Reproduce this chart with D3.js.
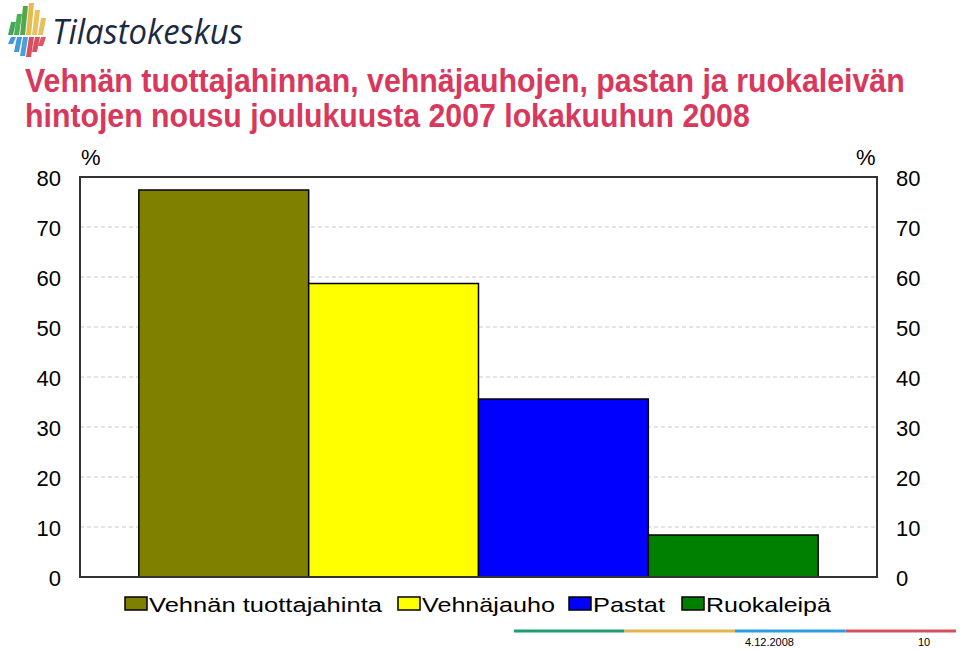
<!DOCTYPE html>
<html><head><meta charset="utf-8">
<script src="https://cdn.jsdelivr.net/npm/d3@7"></script>
<style>body{margin:0;background:#fff}svg{display:block}</style>
</head><body>
<script>
const seriesNames = ["Vehnän tuottajahinta","Vehnäjauho","Pastat","Ruokaleipä"];
const seriesValues = [77.4, 58.7, 35.6, 8.4];
const seriesColors = ["#808000","#ffff00","#0000ff","#008000"];
const yTicks = [0,10,20,30,40,50,60,70,80];
const titleLines = ["Vehnän tuottajahinnan, vehnäjauhojen, pastan ja ruokaleivän","hintojen nousu joulukuusta 2007 lokakuuhun 2008"];
const footerDate = "4.12.2008";
const footerPage = "10";

const W=960,H=650;
const svg=d3.select("body").append("svg").attr("width",W).attr("height",H);
const font="Arial, 'Liberation Sans', sans-serif";

// fit a text to a target width by horizontal scaling
function fitWidth(sel, x0, y0, target){
  sel.each(function(d,i){
    const t=d3.select(this);
    const w=this.getComputedTextLength();
    const tw=typeof target==="function"?target(d,i):target;
    const k=tw/w;
    t.attr("x",0).attr("y",0)
     .attr("transform",`translate(${typeof x0==="function"?x0(d,i):x0},${typeof y0==="function"?y0(d,i):y0}) scale(${k},1)`);
  });
}

// logo
const logo=svg.append("g");
const topBars=[{x:8,top:22,c:"#2f9d48"},{x:14,top:14,c:"#3aa843"},{x:20,top:6,c:"#3f9e3a"},{x:26,top:3,c:"#e3b53c"},{x:32,top:10,c:"#e8bc4a"},{x:38,top:18,c:"#e7b84a"}];
const botBars=[{x:3,bot:44,c:"#2e8fd8"},{x:9,bot:52,c:"#2f8fd5"},{x:15,bot:56,c:"#3a93d6"},{x:21,bot:57,c:"#d23b4f"},{x:27,bot:52,c:"#d43e4f"},{x:33,bot:46,c:"#d6485a"}];
topBars.forEach(b=>{
  logo.append("path").attr("d",`M${b.x},35 L${b.x+3},${b.top} L${b.x+8},${b.top} L${b.x+5},35 Z`).attr("fill",b.c).attr("opacity",0.9);
});
botBars.forEach(b=>{
  logo.append("path").attr("d",`M${b.x+5},${b.bot} L${b.x+8},37 L${b.x+13},37 L${b.x+10},${b.bot} Z`).attr("fill",b.c).attr("opacity",0.9);
});
logo.append("text").attr("font-family","'Open Sans', 'DejaVu Sans', sans-serif")
  .attr("font-size",34).attr("font-style","italic").attr("fill","#1b2a41")
  .text("Tilastokeskus").call(fitWidth,52,44,191);

// title
const titleLen=[880,725];
svg.selectAll("text.title").data(titleLines).enter().append("text").attr("class","title")
  .attr("font-family",font).attr("font-weight","bold")
  .attr("font-size",33).attr("fill","#d8385c")
  .text(d=>d)
  .call(fitWidth,25,(d,i)=>92+i*35,(d,i)=>titleLen[i]);

const L=80,R=877,T=177,B=577;
const y=d3.scaleLinear().domain([0,80]).range([B,T]);
const x=d3.scaleBand().domain(seriesNames).range([L,R]).paddingInner(0).paddingOuter(0.3465);

// grid
svg.append("g").selectAll("line").data(yTicks.filter(t=>t>0&&t<80)).enter().append("line")
  .attr("x1",L).attr("x2",R).attr("y1",d=>y(d)).attr("y2",d=>y(d))
  .attr("stroke","#c8c8c8").attr("stroke-dasharray","4,3").attr("stroke-width",1);

// bars
svg.append("g").selectAll("rect").data(seriesNames).enter().append("rect")
  .attr("x",d=>x(d)).attr("width",x.bandwidth())
  .attr("y",(d,i)=>y(seriesValues[i])).attr("height",(d,i)=>B-y(seriesValues[i]))
  .attr("fill",(d,i)=>seriesColors[i]).attr("stroke","#000").attr("stroke-width",1.5);

// frame
svg.append("rect").attr("x",L).attr("y",T).attr("width",R-L).attr("height",B-T)
  .attr("fill","none").attr("stroke","#333").attr("stroke-width",2);

// axes labels
const axL=d3.axisLeft(y).tickValues(yTicks).tickSize(0).tickPadding(19);
const gL=svg.append("g").attr("transform",`translate(${L},0)`).call(axL);
const axR=d3.axisRight(y).tickValues(yTicks).tickSize(0).tickPadding(19);
const gR=svg.append("g").attr("transform",`translate(${R},0)`).call(axR);
[gL,gR].forEach(g=>{g.select(".domain").remove();g.selectAll("text").attr("font-family",font).attr("font-size",22).attr("fill","#000").attr("dy","0.38em");});

svg.append("text").attr("x",81).attr("y",165).attr("font-family",font).attr("font-size",22).text("%");
svg.append("text").attr("x",856).attr("y",165).attr("font-family",font).attr("font-size",22).text("%");

// legend
const legX=[125,398,569,682];
const legLen=[233,133,72,125];
const leg=svg.append("g").selectAll("g").data(seriesNames).enter().append("g")
  .attr("transform",(d,i)=>`translate(${legX[i]},597)`);
leg.append("rect").attr("width",22).attr("height",13).attr("fill",(d,i)=>seriesColors[i]).attr("stroke","#000").attr("stroke-width",1.5);
leg.append("text").attr("font-family",font).attr("font-size",20).text(d=>d)
  .call(fitWidth,24,14.5,(d,i)=>legLen[i]);

// footer line
const footColors=["#1f9e6e","#e5b54b","#2a9fe0","#d5505f"];
svg.append("g").selectAll("line").data(footColors).enter().append("line")
  .attr("x1",(d,i)=>514+i*110.5).attr("x2",(d,i)=>514+(i+1)*110.5)
  .attr("y1",631).attr("y2",631).attr("stroke",d=>d).attr("stroke-width",3);
svg.append("text").attr("x",745).attr("y",646).attr("font-family",font).attr("font-size",11).text(footerDate);
svg.append("text").attr("x",918).attr("y",646).attr("font-family",font).attr("font-size",11).text(footerPage);
</script>
</body></html>
